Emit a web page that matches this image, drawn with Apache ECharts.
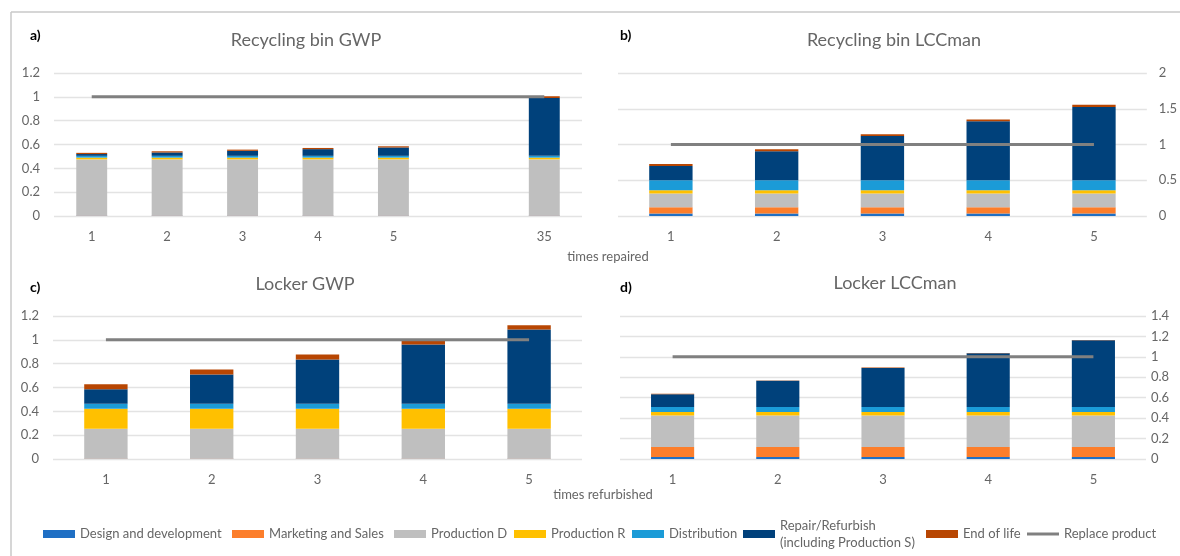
<!DOCTYPE html>
<html>
<head>
<meta charset="utf-8">
<script src="https://cdn.jsdelivr.net/npm/echarts@6/dist/echarts.min.js"></script>
<style>
html,body{margin:0;padding:0;background:#fff;}
#chart{width:1180px;height:556px;}
</style>
</head>
<body>
<div id="chart"></div>
<script>
// ---------- data ----------
const seriesNames = ['Design and development','Marketing and Sales','Production D','Production R','Distribution','Repair/Refurbish\n(including Production S)','End of life','Replace product'];

const catsRepaired = ['1','2','3','4','5','','35'];
const catsB = ['1','2','3','4','5'];
const catsRefurb = ['1','2','3','4','5'];

const yTicksA = [0,0.2,0.4,0.6,0.8,1,1.2];
const yTicksB = [0,0.5,1,1.5,2];
const yTicksC = [0,0.2,0.4,0.6,0.8,1,1.2];
const yTicksD = [0,0.2,0.4,0.6,0.8,1,1.2,1.4];

// a) Recycling bin GWP
const binGwpDesign    = [0.003,0.003,0.003,0.003,0.003,null,0.003];
const binGwpMarketing = [0.002,0.002,0.002,0.002,0.002,null,0.002];
const binGwpProdD     = [0.47,0.47,0.47,0.47,0.47,null,0.47];
const binGwpProdR     = [0.015,0.015,0.015,0.015,0.015,null,0.015];
const binGwpDist      = [0.015,0.015,0.015,0.015,0.015,null,0.015];
const binGwpRepair    = [0.015,0.028,0.042,0.056,0.07,null,0.485];
const binGwpEol       = [0.01,0.01,0.01,0.01,0.01,null,0.015];
const binGwpReplace   = [1,1,1,1,1,1,1];

// b) Recycling bin LCCman
const binLccDesign    = [0.035,0.035,0.035,0.035,0.035];
const binLccMarketing = [0.088,0.088,0.088,0.088,0.088];
const binLccProdD     = [0.19,0.19,0.19,0.19,0.19];
const binLccProdR     = [0.047,0.047,0.047,0.047,0.047];
const binLccDist      = [0.14,0.14,0.14,0.14,0.14];
const binLccRepair    = [0.2,0.405,0.618,0.824,1.024];
const binLccEol       = [0.028,0.028,0.025,0.027,0.032];
const binLccReplace   = [1,1,1,1,1];

// c) Locker GWP
const lockGwpDesign    = [0.002,0.002,0.002,0.002,0.002];
const lockGwpMarketing = [0.002,0.002,0.002,0.002,0.002];
const lockGwpProdD     = [0.25,0.25,0.25,0.25,0.25];
const lockGwpProdR     = [0.167,0.167,0.167,0.167,0.167];
const lockGwpDist      = [0.042,0.042,0.042,0.042,0.042];
const lockGwpRepair    = [0.123,0.246,0.371,0.497,0.623];
const lockGwpEol       = [0.042,0.042,0.042,0.036,0.036];
const lockGwpReplace   = [1,1,1,1,1];

// d) Locker LCCman
const lockLccDesign    = [0.02,0.02,0.02,0.02,0.02];
const lockLccMarketing = [0.097,0.097,0.097,0.097,0.097];
const lockLccProdD     = [0.31,0.31,0.31,0.31,0.31];
const lockLccProdR     = [0.032,0.032,0.032,0.032,0.032];
const lockLccDist      = [0.049,0.049,0.049,0.049,0.049];
const lockLccRepair    = [0.127,0.257,0.384,0.527,0.654];
const lockLccEol       = [0.003,0.003,0.003,0.003,0.003];
const lockLccReplace   = [1,1,1,1,1];

// ---------- styles ----------
const colors = ['#1f6fc4','#fc7e2b','#bfbfbf','#ffc000','#1b9bd7','#00417b','#b84602','#808080'];
const FONT = 'Lato';
const txtColor = '#666666';

const panels = [
  {data:[binGwpDesign,binGwpMarketing,binGwpProdD,binGwpProdR,binGwpDist,binGwpRepair,binGwpEol,binGwpReplace], cats:catsRepaired, ticks:yTicksA, pos:'left', margin:14},
  {data:[binLccDesign,binLccMarketing,binLccProdD,binLccProdR,binLccDist,binLccRepair,binLccEol,binLccReplace], cats:catsB, ticks:yTicksB, pos:'right', margin:12},
  {data:[lockGwpDesign,lockGwpMarketing,lockGwpProdD,lockGwpProdR,lockGwpDist,lockGwpRepair,lockGwpEol,lockGwpReplace], cats:catsRefurb, ticks:yTicksC, pos:'left', margin:14},
  {data:[lockLccDesign,lockLccMarketing,lockLccProdD,lockLccProdR,lockLccDist,lockLccRepair,lockLccEol,lockLccReplace], cats:catsRefurb, ticks:yTicksD, pos:'right', margin:5}
];

const grids = [
  {left:54, right:598, top:73, height:143},
  {left:618, right:33, top:73, height:143},
  {left:53, right:598, top:316, height:143},
  {left:620, right:34, top:316, height:143}
];

const xAxes = [], yAxes = [], series = [];
panels.forEach((p, gi) => {
  xAxes.push({
    type:'category', gridIndex:gi, data:p.cats,
    axisLine:{show:false}, axisTick:{show:false},
    axisLabel:{color:txtColor, fontSize:13, fontFamily:FONT, margin:14}
  });
  const t = p.ticks;
  yAxes.push({
    type:'value', gridIndex:gi, position:p.pos,
    min:t[0], max:t[t.length-1], interval:t[1]-t[0],
    axisLine:{show:false}, axisTick:{show:false},
    axisLabel:{color:txtColor, fontSize:13, fontFamily:FONT, margin:p.margin},
    splitLine:{lineStyle:{color:'#e3e3e3', width:1.3}}
  });
  p.data.forEach((arr, si) => {
    if (si < 7) {
      series.push({
        type:'bar', name:seriesNames[si], xAxisIndex:gi, yAxisIndex:gi,
        stack:'s'+gi, data:arr, barWidth:'41%',
        itemStyle:{color:colors[si]}, z:2
      });
    } else {
      series.push({
        type:'line', name:seriesNames[si], xAxisIndex:gi, yAxisIndex:gi,
        data:arr, symbol:'none', z:5,
        lineStyle:{color:colors[si], width:3}, itemStyle:{color:colors[si]}
      });
    }
  });
});

const legendLeft = [43,232,394,514,632,743,926,1027];
const legends = seriesNames.map((n, i) => {
  const isLine = i === 7;
  const isRepair = i === 5;
  const item = {name:n, itemStyle:{color:colors[i]}};
  if (isRepair) item.textStyle = {padding:[17,0,0,0], lineHeight:17};
  return {
    data:[item], left:legendLeft[i], top:isRepair ? 508.5 : 526,
    orient:'horizontal', icon:'rect', itemWidth:32, itemHeight:isLine ? 3 : 8,
    itemStyle:{color:colors[i]},
    textStyle:{color:txtColor, fontSize:13, fontFamily:FONT, lineHeight:16},
    selectedMode:false, padding:0
  };
});

const titleStyle = {fill:'#666666', font:'18px ' + FONT, align:'center', verticalAlign:'middle'};
const tagStyle = {fill:'#000', font:'bold 14px ' + FONT, align:'left', verticalAlign:'middle'};
const nameStyle = {fill:txtColor, font:'13px ' + FONT, align:'center', verticalAlign:'middle'};

const graphic = [
  {type:'line', shape:{x1:11, y1:12, x2:1180, y2:12}, style:{stroke:'#c8c8c8', lineWidth:1.5}},
  {type:'line', shape:{x1:11, y1:12, x2:11, y2:556}, style:{stroke:'#c8c8c8', lineWidth:1.5}},
  {type:'text', x:306, y:40, style:Object.assign({text:'Recycling bin GWP'}, titleStyle)},
  {type:'text', x:894, y:40, style:Object.assign({text:'Recycling bin LCCman'}, titleStyle)},
  {type:'text', x:305, y:284, style:Object.assign({text:'Locker GWP'}, titleStyle)},
  {type:'text', x:895, y:283, style:Object.assign({text:'Locker LCCman'}, titleStyle)},
  {type:'text', x:30, y:35, style:Object.assign({text:'a)'}, tagStyle)},
  {type:'text', x:620, y:35, style:Object.assign({text:'b)'}, tagStyle)},
  {type:'text', x:30, y:287, style:Object.assign({text:'c)'}, tagStyle)},
  {type:'text', x:620, y:287, style:Object.assign({text:'d)'}, tagStyle)},
  {type:'text', x:608, y:257, style:Object.assign({text:'times repaired'}, nameStyle)},
  {type:'text', x:603, y:495, style:Object.assign({text:'times refurbished'}, nameStyle)}
];

const chart = echarts.init(document.getElementById('chart'));
chart.setOption({
  animation:false,
  backgroundColor:'#ffffff',
  grid:grids,
  xAxis:xAxes,
  yAxis:yAxes,
  legend:legends,
  series:series,
  graphic:graphic
});
</script>
</body>
</html>
